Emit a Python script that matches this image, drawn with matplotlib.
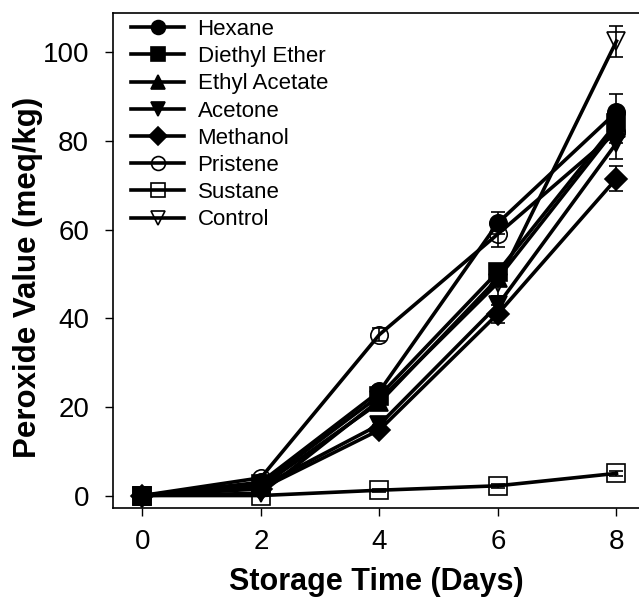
import numpy as np
import matplotlib
matplotlib.use("Agg")
import matplotlib.pyplot as plt

plt.rcParams['font.family'] = ['Liberation Sans', 'DejaVu Sans']

# Storage days
days = [0, 2, 4, 6, 8]

# Peroxide values (meq/kg) per treatment
hexane = [0, 3.0, 23.5, 61.5, 86.5]
diethyl_ether = [0, 2.5, 22.5, 50.5, 84.0]
ethyl_acetate = [0, 2.0, 21.0, 49.0, 83.0]
acetone = [0, 2.0, 16.0, 43.0, 79.5]
methanol = [0, 1.5, 14.8, 41.0, 71.5]
pristene = [0, 4.0, 36.3, 59.0, 82.0]
sustane = [0, 0.0, 1.2, 2.2, 5.0]
control = [0, 0.5, 21.5, 48.0, 102.5]

# standard errors
hexane_err = [0.3, 0.5, 1.2, 2.5, 4.0]
diethyl_err = [0.3, 0.4, 1.0, 1.5, 2.0]
ethyl_err = [0.3, 0.4, 1.0, 1.5, 2.0]
acetone_err = [0.3, 0.4, 1.0, 2.0, 3.5]
methanol_err = [0.3, 0.4, 1.0, 2.0, 2.8]
pristene_err = [0.3, 0.5, 1.5, 3.0, 2.5]
sustane_err = [0.1, 0.2, 0.3, 0.4, 0.6]
control_err = [0.3, 0.4, 1.5, 3.0, 3.5]

labels = ['Hexane', 'Diethyl Ether', 'Ethyl Acetate', 'Acetone',
          'Methanol', 'Pristene', 'Sustane', 'Control']
series = [hexane, diethyl_ether, ethyl_acetate, acetone,
          methanol, pristene, sustane, control]
errors = [hexane_err, diethyl_err, ethyl_err, acetone_err,
          methanol_err, pristene_err, sustane_err, control_err]
markers = ['o', 's', '^', 'v', 'D', 'o', 's', 'v']
filled = [True, True, True, True, True, False, False, False]

fig = plt.figure(figsize=(6.39, 5.99), dpi=100)
ax = fig.add_axes([0.1764, 0.152, 0.8236, 0.826])

for lab, ys, err, mk, fill in zip(labels, series, errors, markers, filled):
    ms = 11 if mk == 'D' else 12.5
    ax.errorbar(days, ys, yerr=err, color='black', linewidth=2.6,
                marker=mk, markersize=ms,
                markerfacecolor='black' if fill else 'none',
                markeredgecolor='black', markeredgewidth=1.2,
                ecolor='black', elinewidth=1.2, capsize=5, capthick=1.2,
                label=lab)

ax.set_xlim(-0.5, 8.38)
ax.set_ylim(-2.8, 108.8)
ax.set_xticks([0, 2, 4, 6, 8])
ax.set_yticks([0, 20, 40, 60, 80, 100])
ax.tick_params(axis='both', direction='out', length=6, width=1,
               labelsize=20)
ax.tick_params(axis='x', pad=9)
ax.tick_params(axis='y', pad=11)
ax.spines['right'].set_visible(False)
for sp in ['left', 'bottom', 'top']:
    ax.spines[sp].set_linewidth(1.2)

ax.set_xlabel('Storage Time (Days)', fontsize=22, fontweight='bold', labelpad=9)
ax.set_ylabel('Peroxide Value (meq/kg)', fontsize=22.5, fontweight='bold')
ax.yaxis.set_label_coords(-0.132, 0.465)

handles, _ = ax.get_legend_handles_labels()
leg = ax.legend(handles=[h[0] for h in handles], labels=labels,
                loc='upper left', bbox_to_anchor=(0.005, 1.02), frameon=False,
                fontsize=16, handlelength=2.4, handletextpad=0.6,
                labelspacing=0.28, markerscale=0.8, borderaxespad=0.3)

fig.savefig('out.png', dpi=100)
